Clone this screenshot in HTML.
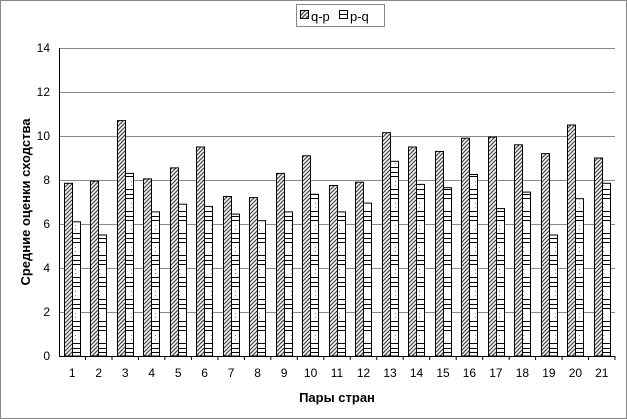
<!DOCTYPE html>
<html><head><meta charset="utf-8"><style>html,body{margin:0;padding:0;background:#fff}svg{display:block}</style></head>
<body>
<svg width="627" height="419" xmlns="http://www.w3.org/2000/svg" font-family="Liberation Sans, Arial, sans-serif">
<defs>
<pattern id="pa" width="4" height="4" patternUnits="userSpaceOnUse">
<rect width="4" height="4" fill="#fff"/>
<path d="M0,4 L4,0 M-1,1 L1,-1 M3,5 L5,3" stroke="#444" stroke-width="1.2"/>
</pattern>
<pattern id="pb" x="0" y="4" width="8" height="22" patternUnits="userSpaceOnUse">
<rect width="8" height="22" fill="#fff"/>
<rect x="3" y="1" width="1" height="1" fill="#888"/>
<rect x="3" y="5" width="1" height="1" fill="#888"/>
<rect x="0" y="9" width="8" height="1" fill="#000"/>
<rect x="0" y="14" width="8" height="1" fill="#000"/>
<rect x="0" y="18" width="8" height="1" fill="#000"/>
</pattern>
</defs>
<rect x="0.5" y="0.5" width="626" height="418" fill="#fff" stroke="#888"/>
<g stroke="#888" stroke-width="1">
<line x1="59" y1="312.5" x2="615" y2="312.5"/>
<line x1="59" y1="268.5" x2="615" y2="268.5"/>
<line x1="59" y1="224.5" x2="615" y2="224.5"/>
<line x1="59" y1="180.5" x2="615" y2="180.5"/>
<line x1="59" y1="136.5" x2="615" y2="136.5"/>
<line x1="59" y1="92.5" x2="615" y2="92.5"/>
<line x1="59" y1="48.5" x2="615" y2="48.5"/>
</g>
<line x1="59" y1="356.5" x2="615" y2="356.5" stroke="#000"/>
<line x1="59.5" y1="48" x2="59.5" y2="356" stroke="#000"/>
<g font-size="12" text-anchor="end">
<text x="50" y="360">0</text><text x="50" y="316">2</text><text x="50" y="272">4</text><text x="50" y="228">6</text><text x="50" y="184">8</text><text x="50" y="140">10</text><text x="50" y="96">12</text><text x="50" y="52">14</text>
</g>
<text transform="translate(30,202) rotate(-90)" font-size="13" font-weight="bold" text-anchor="middle">Средние оценки сходства</text>
<text x="337" y="402" font-size="13" font-weight="bold" text-anchor="middle">Пары стран</text>
<g stroke="#000">
<rect x="64.5" y="183.3" width="8" height="172.7" fill="url(#pa)"/><rect x="72.5" y="221.8" width="8" height="134.2" fill="url(#pb)"/>
<rect x="90.5" y="181.1" width="8" height="174.9" fill="url(#pa)"/><rect x="98.5" y="235" width="8" height="121" fill="url(#pb)"/>
<rect x="117.5" y="120.6" width="8" height="235.4" fill="url(#pa)"/><rect x="125.5" y="173.4" width="8" height="182.6" fill="url(#pb)"/>
<rect x="143.5" y="178.9" width="8" height="177.1" fill="url(#pa)"/><rect x="151.5" y="211.9" width="8" height="144.1" fill="url(#pb)"/>
<rect x="170.5" y="167.9" width="8" height="188.1" fill="url(#pa)"/><rect x="178.5" y="204.2" width="8" height="151.8" fill="url(#pb)"/>
<rect x="196.5" y="147" width="8" height="209" fill="url(#pa)"/><rect x="204.5" y="206.4" width="8" height="149.6" fill="url(#pb)"/>
<rect x="223.5" y="196.5" width="8" height="159.5" fill="url(#pa)"/><rect x="231.5" y="214.1" width="8" height="141.9" fill="url(#pb)"/>
<rect x="249.5" y="197.6" width="8" height="158.4" fill="url(#pa)"/><rect x="257.5" y="220.7" width="8" height="135.3" fill="url(#pb)"/>
<rect x="276.5" y="173.4" width="8" height="182.6" fill="url(#pa)"/><rect x="284.5" y="211.9" width="8" height="144.1" fill="url(#pb)"/>
<rect x="302.5" y="155.8" width="8" height="200.2" fill="url(#pa)"/><rect x="310.5" y="194.3" width="8" height="161.7" fill="url(#pb)"/>
<rect x="329.5" y="185.5" width="8" height="170.5" fill="url(#pa)"/><rect x="337.5" y="211.9" width="8" height="144.1" fill="url(#pb)"/>
<rect x="355.5" y="182.2" width="8" height="173.8" fill="url(#pa)"/><rect x="363.5" y="203.1" width="8" height="152.9" fill="url(#pb)"/>
<rect x="382.5" y="132.7" width="8" height="223.3" fill="url(#pa)"/><rect x="390.5" y="161.3" width="8" height="194.7" fill="url(#pb)"/>
<rect x="408.5" y="147" width="8" height="209" fill="url(#pa)"/><rect x="416.5" y="184.4" width="8" height="171.6" fill="url(#pb)"/>
<rect x="435.5" y="151.4" width="8" height="204.6" fill="url(#pa)"/><rect x="443.5" y="187.7" width="8" height="168.3" fill="url(#pb)"/>
<rect x="461.5" y="138.2" width="8" height="217.8" fill="url(#pa)"/><rect x="469.5" y="174.5" width="8" height="181.5" fill="url(#pb)"/>
<rect x="488.5" y="137.1" width="8" height="218.9" fill="url(#pa)"/><rect x="496.5" y="208.6" width="8" height="147.4" fill="url(#pb)"/>
<rect x="514.5" y="144.8" width="8" height="211.2" fill="url(#pa)"/><rect x="522.5" y="192.1" width="8" height="163.9" fill="url(#pb)"/>
<rect x="541.5" y="153.6" width="8" height="202.4" fill="url(#pa)"/><rect x="549.5" y="235" width="8" height="121" fill="url(#pb)"/>
<rect x="567.5" y="125" width="8" height="231" fill="url(#pa)"/><rect x="575.5" y="198.7" width="8" height="157.3" fill="url(#pb)"/>
<rect x="594.5" y="158" width="8" height="198" fill="url(#pa)"/><rect x="602.5" y="183.3" width="8" height="172.7" fill="url(#pb)"/>
</g>
<path stroke="#000" d="M85.5,356V360M112,356V360M138.4,356V360M164.9,356V360M191.4,356V360M217.9,356V360M244.4,356V360M270.8,356V360M297.3,356V360M323.8,356V360M350.3,356V360M376.8,356V360M403.2,356V360M429.7,356V360M456.2,356V360M482.7,356V360M509.2,356V360M535.6,356V360M562.1,356V360M588.6,356V360M615,356V360"/>
<g font-size="12" text-anchor="middle">
<text x="72.2" y="377">1</text><text x="98.7" y="377">2</text><text x="125.2" y="377">3</text><text x="151.7" y="377">4</text><text x="178.2" y="377">5</text><text x="204.6" y="377">6</text><text x="231.1" y="377">7</text><text x="257.6" y="377">8</text><text x="284.1" y="377">9</text><text x="310.6" y="377">10</text><text x="337" y="377">11</text><text x="363.5" y="377">12</text><text x="390" y="377">13</text><text x="416.5" y="377">14</text><text x="443" y="377">15</text><text x="469.4" y="377">16</text><text x="495.9" y="377">17</text><text x="522.4" y="377">18</text><text x="548.9" y="377">19</text><text x="575.4" y="377">20</text><text x="601.8" y="377">21</text>
</g>
<rect x="296.5" y="4.5" width="88" height="22" fill="#fff" stroke="#888"/>
<rect x="300.5" y="10.5" width="8" height="8" fill="url(#pa)" stroke="#000"/>
<text x="311" y="21" font-size="13">q-p</text>
<rect x="339.5" y="10.5" width="8" height="8" fill="#fff" stroke="#000"/>
<line x1="340" y1="14.5" x2="347" y2="14.5" stroke="#000"/>
<text x="350" y="21" font-size="13">p-q</text>
</svg>
</body></html>
